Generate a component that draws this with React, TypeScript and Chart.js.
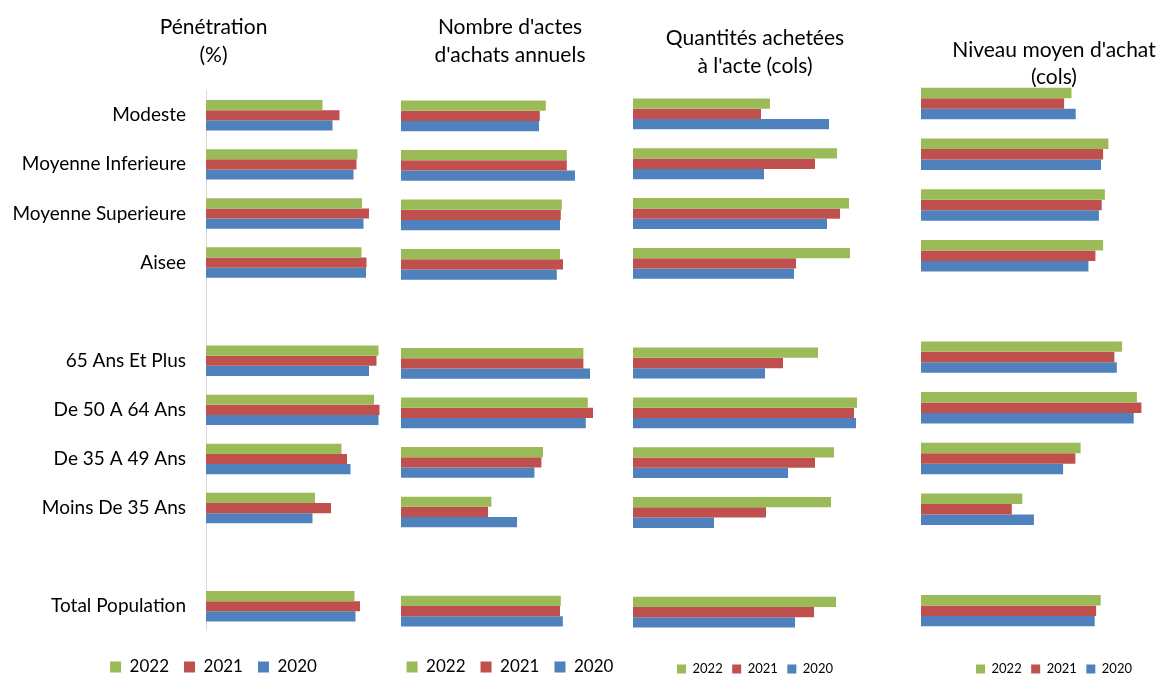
import React, { useEffect, useRef } from "react";
import { Chart, registerables } from "chart.js";

Chart.register(...registerables);

// Category rows (blank entries are spacer rows between the groups)
const categories = [
  "Modeste",
  "Moyenne Inferieure",
  "Moyenne Superieure",
  "Aisee",
  "",
  "65 Ans Et Plus",
  "De 50 A 64 Ans",
  "De 35 A 49 Ans",
  "Moins De 35 Ans",
  "",
  "Total Population",
];

const years = ["2022", "2021", "2020"];
const yearColors = ["#9BBB59", "#C0504D", "#4F81BD"];

// Pénétration (%)
const penetration2022 = [23.3, 30.3, 31.2, 31.1, null, 34.5, 33.6, 27.1, 21.8, null, 29.7];
const penetration2021 = [26.7, 30.1, 32.6, 32.1, null, 34.1, 34.7, 28.2, 25.0, null, 30.8];
const penetration2020 = [25.3, 29.5, 31.5, 32.0, null, 32.6, 34.5, 28.9, 21.3, null, 29.9];

// Nombre d'actes d'achats annuels
const actes2022 = [7.24, 8.29, 8.04, 7.95, null, 9.12, 9.34, 7.1, 4.52, null, 7.99];
const actes2021 = [6.94, 8.29, 7.99, 8.1, null, 9.12, 9.6, 7.02, 4.35, null, 7.95];
const actes2020 = [6.9, 8.7, 7.95, 7.79, null, 9.45, 9.24, 6.67, 5.8, null, 8.09];

// Quantités achetées à l'acte (cols)
const quantites2022 = [1.37, 2.04, 2.16, 2.17, null, 1.85, 2.24, 2.01, 1.98, null, 2.03];
const quantites2021 = [1.28, 1.82, 2.07, 1.63, null, 1.5, 2.21, 1.82, 1.33, null, 1.81];
const quantites2020 = [1.96, 1.31, 1.94, 1.61, null, 1.32, 2.23, 1.55, 0.81, null, 1.62];

// Niveau moyen d'achat (cols)
const niveau2022 = [15.05, 18.74, 18.39, 18.21, null, 20.11, 21.59, 15.96, 10.13, null, 17.97];
const niveau2021 = [14.31, 18.21, 18.07, 17.44, null, 19.34, 22.04, 15.44, 9.08, null, 17.51];
const niveau2020 = [15.47, 18.0, 17.79, 16.74, null, 19.58, 21.27, 14.21, 11.29, null, 17.37];

const FONT = "Lato, 'Open Sans', 'DejaVu Sans', sans-serif";
const CANVAS_H = 700;

type PanelSpec = {
  title: string[];
  series: (number | null)[][];
  left: number;
  width: number;
  axisWidth: number;
  max: number;
  showLabels: boolean;
  titleLineHeight: number;
  titlePadTop: number;
  titlePadBottom: number;
  axisGap: number;
  legendFont: number;
  legendBox: number;
  legendPad: number;
};

const panels: PanelSpec[] = [
  {
    title: ["Pénétration", "(%)"],
    series: [penetration2022, penetration2021, penetration2020],
    left: 0,
    width: 427,
    axisWidth: 206,
    max: 44.2,
    showLabels: true,
    titleLineHeight: 1.36,
    titlePadTop: 12.75,
    titlePadBottom: 20.85,
    axisGap: 12.7,
    legendFont: 17,
    legendBox: 11,
    legendPad: 15,
  },
  {
    title: ["Nombre d'actes", "d'achats annuels"],
    series: [actes2022, actes2021, actes2020],
    left: 380,
    width: 260,
    axisWidth: 21,
    max: 11.95,
    showLabels: false,
    titleLineHeight: 1.36,
    titlePadTop: 12.75,
    titlePadBottom: 21.15,
    axisGap: 7.7,
    legendFont: 17,
    legendBox: 11,
    legendPad: 15,
  },
  {
    title: ["Quantités achetées", "à l'acte (cols)"],
    series: [quantites2022, quantites2021, quantites2020],
    left: 612,
    width: 286,
    axisWidth: 21,
    max: 2.65,
    showLabels: false,
    titleLineHeight: 1.36,
    titlePadTop: 23.75,
    titlePadBottom: 8.15,
    axisGap: 16,
    legendFont: 13,
    legendBox: 9,
    legendPad: 9.5,
  },
  {
    title: ["Niveau moyen d'achat", "(cols)"],
    series: [niveau2022, niveau2021, niveau2020],
    left: 896,
    width: 316,
    axisWidth: 25,
    max: 29.1,
    showLabels: false,
    titleLineHeight: 1.3,
    titlePadTop: 36.35,
    titlePadBottom: -12.75,
    axisGap: 17,
    legendFont: 13,
    legendBox: 9,
    legendPad: 9.5,
  },
];

function Panel({ spec }: { spec: PanelSpec }) {
  const ref = useRef<HTMLCanvasElement | null>(null);

  useEffect(() => {
    if (!ref.current) return;
    const chart = new Chart(ref.current, {
      type: "bar",
      data: {
        labels: categories,
        datasets: years.map((y, i) => ({
          label: y,
          data: spec.series[i],
          backgroundColor: yearColors[i],
          borderWidth: 0,
          categoryPercentage: 0.62,
          barPercentage: 1,
        })),
      },
      options: {
        indexAxis: "y",
        responsive: false,
        animation: false,
        layout: { padding: { left: 0, right: 0, top: 0, bottom: 14.5 } },
        scales: {
          x: {
            min: 0,
            max: spec.max,
            display: true,
            ticks: { display: false },
            grid: { display: false },
            border: { display: false },
            afterFit: (scale: any) => {
              scale.height = spec.axisGap;
            },
          },
          y: {
            display: true,
            grid: { display: false, drawTicks: false },
            border: { display: spec.showLabels, color: "#D9D9D9", width: 1 },
            ticks: {
              display: spec.showLabels,
              padding: 20,
              color: "#000",
              font: { family: FONT, size: 19 },
            },
            afterFit: (scale: any) => {
              scale.width = spec.axisWidth;
            },
          },
        },
        plugins: {
          tooltip: { enabled: false },
          title: {
            display: true,
            text: spec.title,
            color: "#000",
            font: {
              family: FONT,
              size: 21,
              weight: "normal",
              lineHeight: spec.titleLineHeight,
            },
            padding: { top: spec.titlePadTop, bottom: spec.titlePadBottom },
          },
          legend: {
            display: true,
            position: "bottom",
            labels: {
              color: "#000",
              font: { family: FONT, size: spec.legendFont },
              boxWidth: spec.legendBox,
              boxHeight: spec.legendBox,
              padding: spec.legendPad,
            },
          },
        },
      },
    } as any);
    return () => chart.destroy();
  }, [spec]);

  return (
    <canvas
      ref={ref}
      width={spec.width}
      height={CANVAS_H}
      style={{
        position: "absolute",
        left: spec.left,
        top: 0,
        width: spec.width,
        height: CANVAS_H,
      }}
    />
  );
}

export default function App() {
  return (
    <div
      style={{
        position: "fixed",
        left: 0,
        top: 0,
        width: 1171,
        height: 677,
        overflow: "hidden",
        background: "#fff",
      }}
    >
      {panels.map((p, i) => (
        <Panel key={i} spec={p} />
      ))}
    </div>
  );
}
